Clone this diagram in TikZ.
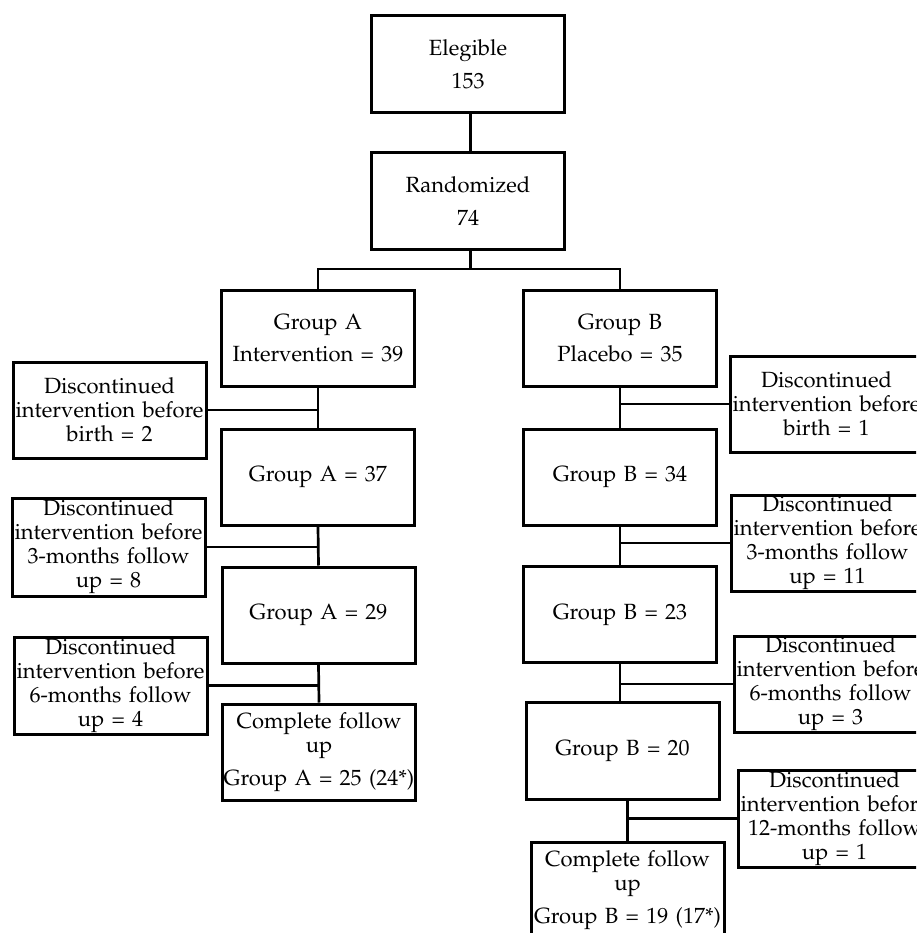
\documentclass[tikz,border=0pt]{standalone}
\usepackage[T1]{fontenc}
\renewcommand{\rmdefault}{ppl}
\begin{document}
\begin{tikzpicture}[x=1pt,y=-1pt,
  box/.style={draw, line width=3pt, inner sep=0pt, align=center,
    text width=193pt, minimum width=193pt, minimum height=96pt,
    font=\fontsize{22}{24}\selectfont},
  conn/.style={line width=2.7pt}]
\useasboundingbox (0,0) rectangle (916,933);
\clip (0,0) rectangle (916,933);
\fill[white] (0,0) rectangle (916,933);
% main column
\node[box, minimum height=97pt] (el) at (468,64.5) {Elegible\\[9pt]153};
\node[box] (ra) at (468,201) {Randomized\\[9pt]74};
\coordinate (sp) at (470.5,269);
\node[box] (gA) at (318,338) {Group A\\[8pt]Intervention = 39};
\node[box] (gB) at (620,338) {Group B\\[8pt]Placebo = 35};
% group A
\node[box] (a37) at (318,477) {Group A = 37};
\node[box] (a29) at (318.5,615) {Group A = 29};
\node[box] (aC) at (319,752) {Complete follow\\up\\[9pt]Group A = 25 (24*)};
\node[box] (dA1) at (109.5,410) {Discontinued\\intervention before\\birth = 2};
\node[box, minimum height=98pt] (dA2) at (108.5,547) {Discontinued\\intervention before\\3-months follow\\up = 8};
\node[box, minimum height=97pt] (dA3) at (110.5,685.5) {Discontinued\\intervention before\\6-months follow\\up = 4};
% group B
\node[box] (b34) at (620,477) {Group B = 34};
\node[box] (b23) at (620,614.5) {Group B = 23};
\node[box, minimum height=97pt] (b20) at (622.5,750.5) {Group B = 20};
\node[box] (bC) at (627.5,890) {Complete follow\\up\\[9pt]Group B = 19 (17*)};
\node[box] (dB1) at (826.5,404) {Discontinued\\intervention before\\birth = 1};
\node[box] (dB2) at (827.5,543) {Discontinued\\intervention before\\3-months follow\\up = 11};
\node[box] (dB3) at (830.5,684) {Discontinued\\intervention before\\6-months follow\\up = 3};
\node[box, minimum height=97pt] (dB4) at (834.5,818.5) {Discontinued\\intervention before\\12-months follow\\up = 1};
% connectors
\draw[conn] (el.south -| sp) -- (ra.north -| sp);
\draw[conn] (ra.south -| sp) -- (sp);
\draw[conn] (gA.north) |- (sp) -| (gB.north);
\draw[conn] (gA.south) -- (a37.north);
\draw[conn] (a37.south) -- (a29.north);
\draw[conn] (a29.south) -- (aC.north);
\draw[conn] (gB.south) -- (b34.north);
\draw[conn] (b34.south) -- (b23.north);
\draw[conn] (b23.south) -- (b23.south |- b20.north);
\draw[conn] (bC.north) -- (bC.north |- b20.south);
\draw[conn] (dA1.east) -- (dA1.east -| gA.south);
\draw[conn] (dA2.east) -- (dA2.east -| a37.south);
\draw[conn] (dA3.east) -- (dA3.east -| a29.south);
\draw[conn] (dB1.west) -- (dB1.west -| gB.south);
\draw[conn] (dB2.west) -- (dB2.west -| b34.south);
\draw[conn] (dB3.west) -- (dB3.west -| b23.south);
\draw[conn] (dB4.west) -- (dB4.west -| bC.north);
\end{tikzpicture}
\end{document}
